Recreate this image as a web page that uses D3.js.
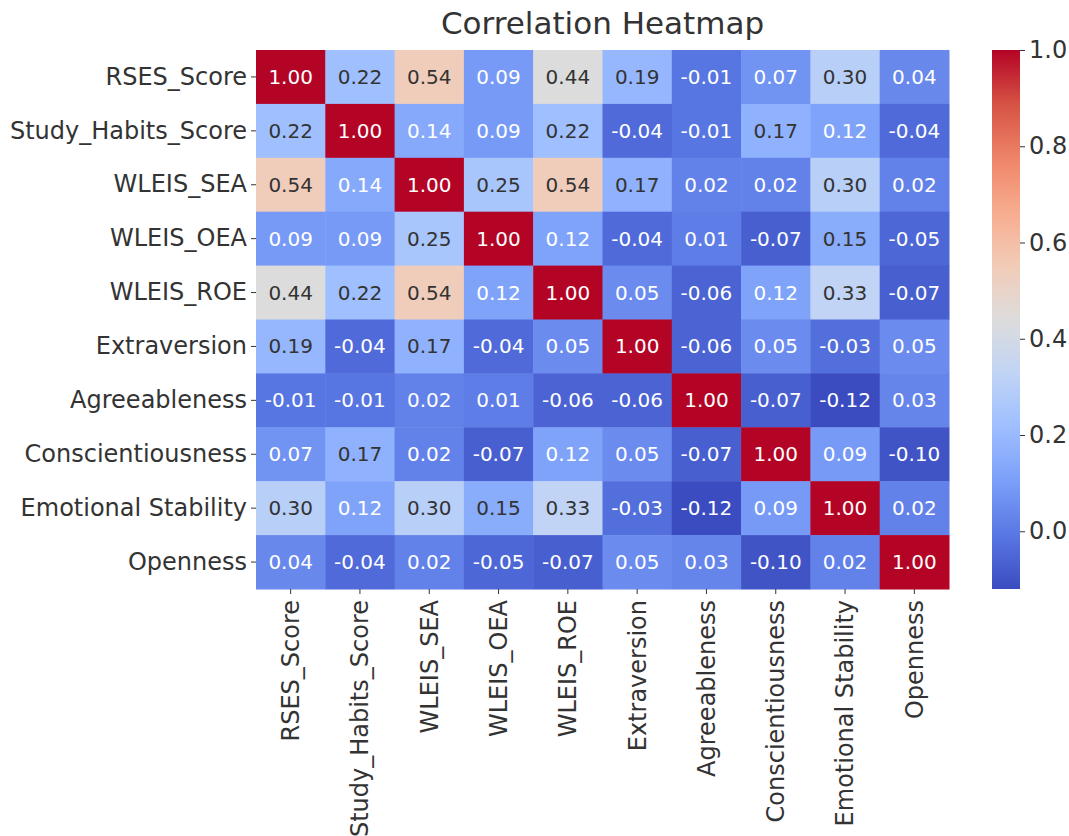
<html>
<head>
    <title>Correlation Heatmap</title>
    <style>
        body { margin: 0; background: #fff; }
        text { font-family: "DejaVu Sans", sans-serif; }
        .tick-label { fill: #333; font-size: 24px; }
        .annot { font-size: 20px; }
    </style>
</head>
<body>
<div id="target"></div>
<script src="https://cdnjs.cloudflare.com/ajax/libs/d3/7.8.5/d3.min.js"></script>
<script>
    // variable names, same order on both axes
    var labels = ['RSES_Score', 'Study_Habits_Score', 'WLEIS_SEA', 'WLEIS_OEA', 'WLEIS_ROE',
        'Extraversion', 'Agreeableness', 'Conscientiousness', 'Emotional Stability', 'Openness'];

    // correlation matrix, one row per label
    var corr = [
        [1.00, 0.22, 0.54, 0.09, 0.44, 0.19, -0.01, 0.07, 0.30, 0.04],
        [0.22, 1.00, 0.14, 0.09, 0.22, -0.04, -0.01, 0.17, 0.12, -0.04],
        [0.54, 0.14, 1.00, 0.25, 0.54, 0.17, 0.02, 0.02, 0.30, 0.02],
        [0.09, 0.09, 0.25, 1.00, 0.12, -0.04, 0.01, -0.07, 0.15, -0.05],
        [0.44, 0.22, 0.54, 0.12, 1.00, 0.05, -0.06, 0.12, 0.33, -0.07],
        [0.19, -0.04, 0.17, -0.04, 0.05, 1.00, -0.06, 0.05, -0.03, 0.05],
        [-0.01, -0.01, 0.02, 0.01, -0.06, -0.06, 1.00, -0.07, -0.12, 0.03],
        [0.07, 0.17, 0.02, -0.07, 0.12, 0.05, -0.07, 1.00, 0.09, -0.10],
        [0.30, 0.12, 0.30, 0.15, 0.33, -0.03, -0.12, 0.09, 1.00, 0.02],
        [0.04, -0.04, 0.02, -0.05, -0.07, 0.05, 0.03, -0.10, 0.02, 1.00]
    ];

    var colorbarTicks = [0.0, 0.2, 0.4, 0.6, 0.8, 1.0];

    // matplotlib "coolwarm", sampled at 11 stops
    var coolwarm = ['#3b4cc0', '#5977e3', '#7b9ff9', '#9ebeff', '#c0d4f5', '#dddcdc',
        '#f2cbb7', '#f7ac8e', '#ee8468', '#d65244', '#b40426'];

    var W = 1069, H = 836;
    // plot box (note: "top" is reserved on window, so prefixed names)
    var pLeft = 256, pTop = 50, pRight = 949, pBottom = 589;

    var svg = d3.select('#target').append('svg')
            .attr('width', W)
            .attr('height', H);

    var vmin = d3.min(corr, function (r) { return d3.min(r); });
    var vmax = d3.max(corr, function (r) { return d3.max(r); });

    var interp = d3.piecewise(d3.interpolateRgb, coolwarm);
    var color = d3.scaleSequential(interp).domain([vmin, vmax]);

    var x = d3.scaleBand().domain(labels).range([pLeft, pRight]);
    var y = d3.scaleBand().domain(labels).range([pTop, pBottom]);

    // seaborn picks the annotation colour from the cell luminance
    var luminance = function (c) {
        var rgb = d3.rgb(c);
        var ch = [rgb.r, rgb.g, rgb.b].map(function (v) {
            v = v / 255;
            return v <= 0.03928 ? v / 12.92 : Math.pow((v + 0.055) / 1.055, 2.4);
        });
        return 0.2126 * ch[0] + 0.7152 * ch[1] + 0.0722 * ch[2];
    };

    var cells = [];
    corr.forEach(function (row, i) {
        row.forEach(function (v, j) {
            cells.push({ row: labels[i], col: labels[j], value: v });
        });
    });

    var gCells = svg.append('g').attr('class', 'cells');
    gCells.selectAll('rect')
            .data(cells)
            .enter()
            .append('rect')
            .attr('x', function (d) { return x(d.col); })
            .attr('y', function (d) { return y(d.row); })
            .attr('width', x.bandwidth() + 0.5)
            .attr('height', y.bandwidth() + 0.5)
            .attr('fill', function (d) { return color(d.value); });

    gCells.selectAll('text')
            .data(cells)
            .enter()
            .append('text')
            .attr('class', 'annot')
            .attr('x', function (d) { return x(d.col) + x.bandwidth() / 2; })
            .attr('y', function (d) { return y(d.row) + y.bandwidth() / 2; })
            .attr('text-anchor', 'middle')
            .attr('dominant-baseline', 'central')
            .attr('fill', function (d) { return luminance(color(d.value)) > 0.408 ? '#333' : '#ffffff'; })
            .text(function (d) { return d.value.toFixed(2); });

    // axes
    var yAxis = svg.append('g')
            .attr('transform', 'translate(' + pLeft + ',0)')
            .call(d3.axisLeft(y).tickSize(5).tickPadding(4));
    var xAxis = svg.append('g')
            .attr('transform', 'translate(0,' + pBottom + ')')
            .call(d3.axisBottom(x).tickSize(5).tickPadding(4));

    [xAxis, yAxis].forEach(function (g) {
        g.select('.domain').remove();
        g.selectAll('.tick line').attr('stroke', '#333');
        g.selectAll('.tick text').attr('class', 'tick-label').attr('font-size', null).attr('font-family', null);
    });

    xAxis.selectAll('.tick text')
            .attr('transform', 'rotate(-90)')
            .attr('text-anchor', 'end')
            .attr('dy', '0.35em')
            .attr('x', -11)
            .attr('y', 0);

    // title, centred over the heatmap
    svg.append('text')
            .attr('x', (pLeft + pRight) / 2)
            .attr('y', 34)
            .attr('text-anchor', 'middle')
            .attr('fill', '#333')
            .attr('font-size', 31)
            .text('Correlation Heatmap');

    // colorbar
    var cbLeft = 992, cbWidth = 28;
    var cbScale = d3.scaleLinear().domain([vmin, vmax]).range([pBottom, pTop]);

    var defs = svg.append('defs');
    var grad = defs.append('linearGradient')
            .attr('id', 'cb-grad')
            .attr('x1', 0).attr('y1', 1)
            .attr('x2', 0).attr('y2', 0);
    grad.selectAll('stop')
            .data(d3.range(0, 1.0001, 0.05))
            .enter()
            .append('stop')
            .attr('offset', function (t) { return t; })
            .attr('stop-color', function (t) { return color(vmin + t * (vmax - vmin)); });

    svg.append('rect')
            .attr('x', cbLeft)
            .attr('y', pTop)
            .attr('width', cbWidth)
            .attr('height', pBottom - pTop)
            .attr('fill', 'url(#cb-grad)');

    var cbAxis = svg.append('g')
            .attr('transform', 'translate(' + (cbLeft + cbWidth) + ',0)')
            .call(d3.axisRight(cbScale).tickValues(colorbarTicks).tickFormat(d3.format('.1f')).tickSize(5).tickPadding(4));
    cbAxis.select('.domain').remove();
    cbAxis.selectAll('.tick line').attr('stroke', '#333');
    cbAxis.selectAll('.tick text').attr('class', 'tick-label').attr('font-size', null).attr('font-family', null);
</script>
</body>
</html>
